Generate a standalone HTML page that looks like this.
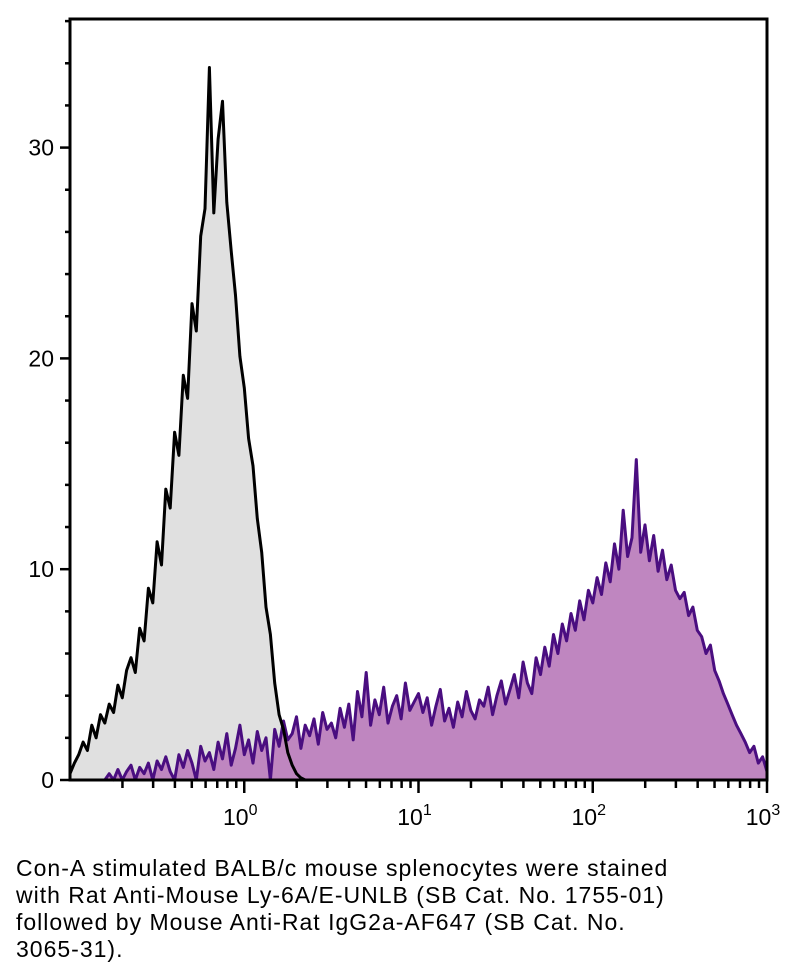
<!DOCTYPE html>
<html><head><meta charset="utf-8"><style>
html,body{margin:0;padding:0;background:#fff;width:797px;height:980px;overflow:hidden}
#cap{position:absolute;left:16px;top:855px;width:770px;font-family:"Liberation Sans",sans-serif;font-size:23px;letter-spacing:1px;line-height:27px;color:#000;white-space:nowrap}
</style></head><body>
<svg id="chart" width="797" height="850" style="position:absolute;left:0;top:0" xmlns="http://www.w3.org/2000/svg"></svg>
<div id="cap">Con-A stimulated BALB/c mouse splenocytes were stained<br>with Rat Anti-Mouse Ly-6A/E-UNLB (SB Cat. No. 1755-01)<br>followed by Mouse Anti-Rat IgG2a-AF647 (SB Cat. No.<br>3065-31).</div>
<script>
const controlStart = -1.0;
const controlValues = [0.3,0.8,1.2,1.8,1.4,2.6,2.0,3.1,2.7,3.6,3.2,4.5,3.9,5.2,5.8,5.1,7.2,6.6,9.1,8.4,11.3,10.2,13.8,12.9,16.5,15.4,19.2,18.1,22.6,21.3,25.8,27.1,33.8,26.9,30.4,32.2,27.4,25.1,23.0,20.1,18.6,16.2,14.9,12.4,10.8,8.2,6.9,4.6,3.1,2.4,1.3,0.7,0.3,0.1,0];
const stainedStart = -0.8;
const stainedValues = [0,0.3,0,0.5,0,0.4,0.7,0,0.6,0.3,0.8,0,0.9,
0.5,1.1,0.4,0,1.2,0.6,1.4,0.8,0,1.6,0.9,1.3,0.5,1.8,1.0,2.2,0.7,1.5,2.6,1.2,
1.9,0.8,2.3,1.4,2.0,0,2.4,1.6,2.8,1.9,2.2,3.0,1.5,2.6,2.1,2.9,1.7,3.2,2.4,2.7,
2.0,3.4,2.5,3.6,1.9,4.2,3.0,5.1,2.6,3.8,3.1,4.4,2.7,3.5,4.0,2.9,4.6,3.3,3.7,4.1,
3.2,3.9,2.6,3.5,4.3,2.8,3.4,2.5,3.7,3.0,4.2,3.3,2.9,3.8,3.5,4.4,3.1,4.0,4.7,3.6,
4.3,5.0,3.9,5.6,4.6,4.1,5.8,5.0,6.3,5.4,6.9,6.0,7.4,6.6,7.9,7.1,8.5,7.6,9.0,8.4,
9.6,8.8,10.3,9.4,11.2,10.0,12.8,10.6,11.5,15.2,10.8,12.1,10.4,11.6,9.9,10.9,9.5,10.2,9.0,8.6,
8.9,7.8,8.2,7.1,6.8,6.0,6.4,5.2,4.7,4.1,3.6,3.1,2.6,2.2,1.8,1.3,1.6,0.8,1.1,0.4];
const binStep = 0.025;
const yTicks = [0,10,20,30];
const xDecades = [0,1,2,3];

const NS="http://www.w3.org/2000/svg";
const svg=document.getElementById('chart');
const L=70,R=767,T=19,B=780;
const xs=l=>L+(l-(-1))/4*(R-L);
const ys=v=>B-v*(B-T)/36.1;
function mk(tag,attrs,parent){const e=document.createElementNS(NS,tag);for(const k in attrs)e.setAttribute(k,attrs[k]);(parent||svg).appendChild(e);return e;}
function pathFor(start,vals,close){
  let d='';vals.forEach((v,i)=>{const x=xs(start+i*binStep),y=ys(v);d+=(i?'L':'M')+x.toFixed(1)+','+y.toFixed(1);});
  if(close){d+='L'+xs(start+(vals.length-1)*binStep).toFixed(1)+','+B+'L'+xs(start).toFixed(1)+','+B+'Z';}
  return d;
}
const cf=mk('path',{d:pathFor(controlStart,controlValues,true),fill:'#e0e0e0',stroke:'none'});


const sf=mk('path',{d:pathFor(stainedStart,stainedValues,true),fill:'#bf86c0',stroke:'none'});


const sl=mk('path',{d:pathFor(stainedStart,stainedValues,false),fill:'none',stroke:'#4a0e80','stroke-width':3,'stroke-linejoin':'round'});


const cl=mk('path',{d:pathFor(controlStart,controlValues,false),fill:'none',stroke:'#000','stroke-width':3,'stroke-linejoin':'round'});


const fr=mk('rect',{x:L,y:T,width:R-L,height:B-T,fill:'none',stroke:'#000','stroke-width':3});


for(let v=0;v<=36;v+=2){
  const major=yTicks.includes(v);
  const t=mk('line',{x1:L,x2:L-(major?10:5),y1:ys(v),y2:ys(v),stroke:'#000','stroke-width':2.5});
  
  
}
yTicks.forEach(v=>{
  const t=mk('text',{x:L-16,y:ys(v)+8,'text-anchor':'end','font-family':'Liberation Sans, sans-serif','font-size':23});
  t.textContent=v;
  
  
});
for(let d=-1;d<3;d++){for(let m=1;m<=9;m++){
  const l=d+Math.log10(m); if(l<=-1) continue;
  const major=m===1;
  const t=mk('line',{x1:xs(l),x2:xs(l),y1:B,y2:B+(major?13:8),stroke:'#000','stroke-width':2.5});
  
  
}}
const te=mk('line',{x1:xs(3),x2:xs(3),y1:B,y2:B+13,stroke:'#000','stroke-width':2.5});


xDecades.forEach(d=>{
  const t=mk('text',{x:xs(d)-4,y:B+45,'text-anchor':'middle','font-family':'Liberation Sans, sans-serif','font-size':23});
  
  
  const a=mk('tspan',{},t);a.textContent='10';
  const b=mk('tspan',{dy:-10,'font-size':16},t);b.textContent=d;
});
</script>
</body></html>
